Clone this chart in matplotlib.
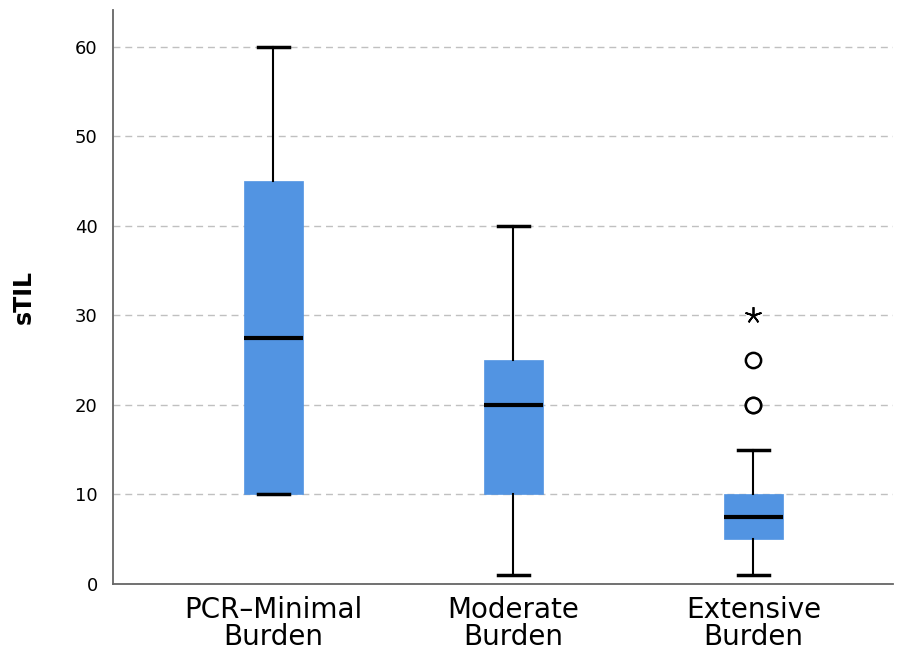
import matplotlib.pyplot as plt

# box statistics
groups = ['PCR\u2013Minimal\nBurden', 'Moderate\nBurden', 'Extensive\nBurden']
whislo = [10, 1, 1]
q1 = [10, 10, 5]
med = [27.5, 20, 7.5]
q3 = [45, 25, 10]
whishi = [60, 40, 15]
outliers = [[], [], [20, 20, 25]]
extremes = [[], [], [30]]

stats = []
for i in range(len(groups)):
    stats.append({'whislo': whislo[i], 'q1': q1[i], 'med': med[i], 'q3': q3[i],
                  'whishi': whishi[i], 'fliers': outliers[i], 'label': groups[i]})

fig = plt.figure(figsize=(8.99, 6.55), dpi=100)
ax = fig.add_axes([0.1257, 0.1084, 0.868, 0.876])

ax.bxp(stats, positions=[1, 2, 3], widths=0.245, patch_artist=True, showfliers=True,
       boxprops=dict(facecolor='#5294e2', edgecolor='#5294e2', linewidth=0.5),
       medianprops=dict(color='black', linewidth=3),
       whiskerprops=dict(color='black', linewidth=1.5),
       capprops=dict(color='black', linewidth=2.5),
       capwidths=0.13,
       flierprops=dict(marker='o', markersize=11, markerfacecolor='white',
                       markeredgecolor='black', markeredgewidth=1.8))

for i, ex in enumerate(extremes):
    if ex:
        ax.plot([i + 1] * len(ex), ex, linestyle='none', marker=(5, 2, 0),
                markersize=12, color='black', markeredgewidth=1.3)

ax.set_ylim(0, 64.1)
ax.set_xlim(0.333, 3.583)
ax.set_yticks(range(0, 61, 10))
ax.yaxis.grid(True, linestyle=(0, (5, 3.5)), color='#c0c0c0', linewidth=1)
ax.set_axisbelow(True)
for s in ['top', 'right']:
    ax.spines[s].set_visible(False)
for s in ['left', 'bottom']:
    ax.spines[s].set_color('#666666')
    ax.spines[s].set_linewidth(1.3)
ax.tick_params(axis='both', length=0)
ax.tick_params(axis='y', labelsize=13, pad=11)
ax.tick_params(axis='x', labelsize=20, pad=9)
for lbl in ax.get_xticklabels():
    lbl.set_linespacing(0.95)
ax.set_ylabel('sTIL', fontsize=17, fontweight='bold', labelpad=28)

fig.savefig('out.png', dpi=100)
